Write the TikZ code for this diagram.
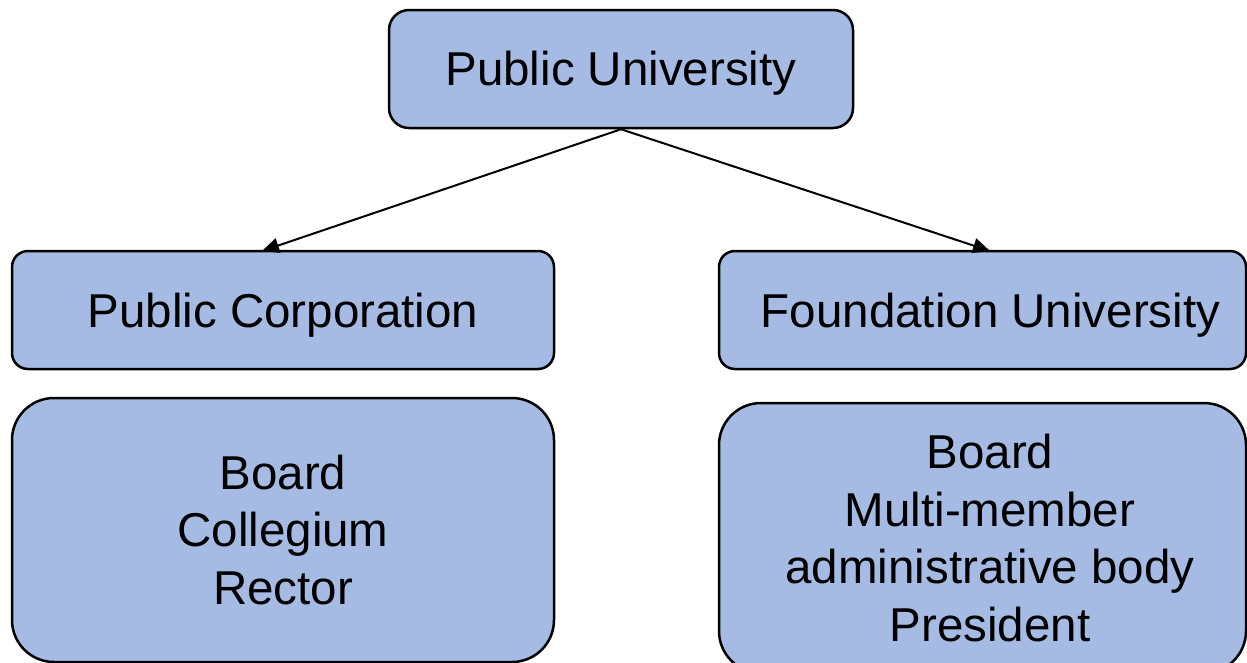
\documentclass[tikz,border=0pt]{standalone}
\usepackage{fontspec}
\setmainfont{Liberation Sans}
\usetikzlibrary{arrows.meta}
\definecolor{boxfill}{RGB}{165,187,227}
\newcommand{\lowertext}[2]{\raisebox{-#1}[\height][\depth]{#2}}
\begin{document}
\begin{tikzpicture}[x=1pt,y=-1pt,
  box/.style={draw=black,line width=2.5pt,fill=boxfill,inner sep=0pt,align=center,
    font=\fontsize{47.5}{57.5}\selectfont},
  conn/.style={line width=2pt,-{Triangle[length=17pt,width=15pt]}}]
\useasboundingbox (0,0) rectangle (1247,662);
\node[box,rounded corners=20pt,minimum width=464pt,minimum height=118pt] (pu) at (621,69) {\lowertext{4pt}{Public University}};
\node[box,rounded corners=16pt,minimum width=542pt,minimum height=118pt] (pc) at (283,310) {\lowertext{5pt}{Public Corporation}};
\node[box,rounded corners=16pt,minimum width=527pt,minimum height=118pt] (fu) at (982.5,310) {\lowertext{5pt}{\hspace*{16pt}Foundation University}};
\node[box,rounded corners=42pt,minimum width=542pt,minimum height=264pt] (pcb) at (283,530) {Board\\Collegium\\Rector};
\node[box,rounded corners=42pt,minimum width=527pt,minimum height=270pt] (fub) at (982.5,538) {\hspace*{15pt}Board\\\hspace*{15pt}Multi-member\\\hspace*{15pt}administrative body\\\hspace*{15pt}President};
\draw[conn] (pu.south) -- (262,251) coordinate (pcin);
\draw[conn] (pu.south) -- (990,251) coordinate (fuin);
\end{tikzpicture}
\end{document}
